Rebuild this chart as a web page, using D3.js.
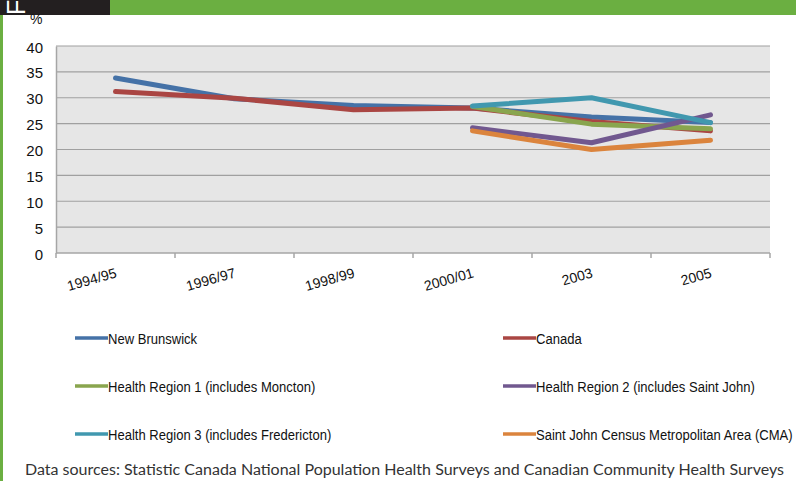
<!DOCTYPE html>
<html lang="en">
<head>
<meta charset="utf-8">
<script src="https://cdn.jsdelivr.net/npm/d3@7"></script>
<style>
  body { margin: 0; background: #fff; }
  svg text { font-family: "Liberation Sans", Arial, sans-serif; }
</style>
</head>
<body>
<div id="chart"></div>
<script>
    // data
    const periods = ["1994/95", "1996/97", "1998/99", "2000/01", "2003", "2005"];
    const yTicks = [0, 5, 10, 15, 20, 25, 30, 35, 40];

    const newBrunswick = [33.8, 29.8, 28.5, 28.0, 26.3, 25.2];
    const canada = [31.2, 29.9, 27.7, 28.0, 25.4, 23.6];
    const healthRegion1 = [null, null, null, 28.3, 24.9, 24.0];
    const healthRegion2 = [null, null, null, 24.2, 21.3, 26.7];
    const healthRegion3 = [null, null, null, 28.4, 30.0, 25.2];
    const saintJohnCMA = [null, null, null, 23.6, 20.0, 21.8];

    const seriesNames = [
        "New Brunswick", "Canada",
        "Health Region 1 (includes Moncton)", "Health Region 2 (includes Saint John)",
        "Health Region 3 (includes Fredericton)", "Saint John Census Metropolitan Area (CMA)"
    ];
    const seriesValues = [newBrunswick, canada, healthRegion1, healthRegion2, healthRegion3, saintJohnCMA];
    const seriesColors = ["#4572A7", "#AA4643", "#89A54E", "#71588F", "#4198AF", "#DB843D"];

    const width = 796, height = 481;
    const margin = { top: 46, right: 26, bottom: 228, left: 56 };
    const chartWidth = width - margin.left - margin.right;
    const chartHeight = height - margin.top - margin.bottom;

    const svg = d3.select("#chart").append("svg")
        .attr("width", width)
        .attr("height", height);

    // page frame: top bar and left stripe
    svg.append("rect").attr("x", 110).attr("y", 0).attr("width", width - 110).attr("height", 15).attr("fill", "#6BAF41");
    svg.append("rect").attr("x", 0).attr("y", 0).attr("width", 110).attr("height", 15).attr("fill", "#231F20");
    svg.append("rect").attr("x", 0).attr("y", 15).attr("width", 3).attr("height", height - 15).attr("fill", "#6BAF41");
    svg.append("clipPath").attr("id", "topclip")
        .append("rect").attr("x", 0).attr("y", 0).attr("width", 110).attr("height", 15);
    // vertical page title, only its first letter peeks into the bar
    svg.append("g")
        .attr("clip-path", "url(#topclip)")
        .append("text")
        .attr("transform", "translate(25,15) rotate(-90)")
        .attr("fill", "#fff")
        .style("font-size", "25px")
        .text("F");

    const chart = svg.append("g")
        .attr("transform", `translate(${margin.left},${margin.top})`);

    const xScale = d3.scaleBand()
        .domain(periods)
        .range([0, chartWidth]);

    const yScale = d3.scaleLinear()
        .domain([0, 40])
        .range([chartHeight, 0]);

    // plot background
    chart.append("rect")
        .attr("width", chartWidth)
        .attr("height", chartHeight)
        .attr("fill", "#E6E6E6");

    // gridlines
    chart.selectAll(".grid")
        .data(yTicks.filter(d => d > 0))
        .enter()
        .append("line")
        .attr("x1", 0).attr("x2", chartWidth)
        .attr("y1", d => yScale(d)).attr("y2", d => yScale(d))
        .attr("stroke", "#A0A0A0")
        .attr("stroke-width", 1.2);

    // y axis
    const yAxis = chart.append("g")
        .call(d3.axisLeft(yScale).tickValues(yTicks).tickSize(0).tickPadding(13));
    yAxis.select(".domain").attr("stroke", "#A6A6A6").attr("stroke-width", 1.5);
    yAxis.selectAll("text").style("font-size", "15px").attr("fill", "#111").attr("dy", "0.4em");

    svg.append("text")
        .attr("x", 30).attr("y", 24)
        .style("font-size", "14px")
        .attr("fill", "#111")
        .text("%");

    // x axis with boundary ticks
    const xAxis = chart.append("g")
        .attr("transform", `translate(0,${chartHeight})`);
    xAxis.append("line")
        .attr("x1", 0).attr("x2", chartWidth)
        .attr("stroke", "#A6A6A6").attr("stroke-width", 1.5);
    xAxis.selectAll(".tick")
        .data(periods.concat(["end"]))
        .enter()
        .append("line")
        .attr("x1", (d, i) => i * xScale.step())
        .attr("x2", (d, i) => i * xScale.step())
        .attr("y1", 0).attr("y2", 5)
        .attr("stroke", "#A6A6A6").attr("stroke-width", 1.5);
    xAxis.selectAll(".label")
        .data(periods)
        .enter()
        .append("text")
        .attr("text-anchor", "end")
        .attr("transform", d => `translate(${xScale(d) + xScale.bandwidth() / 2 + 2},${24}) rotate(-16)`)
        .style("font-size", "14px")
        .attr("fill", "#111")
        .text(d => d);

    // lines
    const line = d3.line()
        .defined(d => d != null)
        .x((d, i) => xScale(periods[i]) + xScale.bandwidth() / 2)
        .y(d => yScale(d));

    const drawOrder = [0, 1, 2, 3, 5, 4];
    chart.selectAll(".series")
        .data(drawOrder)
        .enter()
        .append("path")
        .attr("d", i => line(seriesValues[i]))
        .attr("fill", "none")
        .attr("stroke", i => seriesColors[i])
        .attr("stroke-width", 5)
        .attr("stroke-linecap", "round")
        .attr("stroke-linejoin", "round");

    // legend
    const legend = svg.append("g");
    const items = legend.selectAll("g")
        .data(seriesNames)
        .enter()
        .append("g")
        .attr("transform", (d, i) => `translate(${i % 2 === 0 ? 75 : 503},${338 + Math.floor(i / 2) * 48})`);
    items.append("line")
        .attr("x1", 0).attr("x2", 33)
        .attr("stroke", (d, i) => seriesColors[i])
        .attr("stroke-width", 3.5);
    items.append("text")
        .attr("transform", "translate(33,5.5) scale(0.87,1)")
        .style("font-size", "15px")
        .attr("fill", "#111")
        .text(d => d);

    svg.append("text")
        .attr("x", 25).attr("y", 475)
        .style("font-family", "Lato, 'Open Sans', sans-serif")
        .style("font-size", "14.5px")
        .attr("fill", "#333")
        .attr("textLength", 759)
        .attr("lengthAdjust", "spacingAndGlyphs")
        .text("Data sources: Statistic Canada National Population Health Surveys and Canadian Community Health Surveys");
</script>
</body>
</html>
